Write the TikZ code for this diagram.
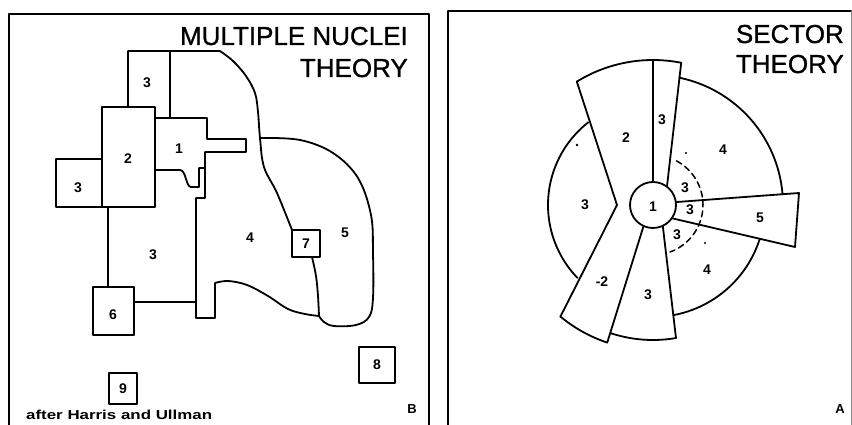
\documentclass[tikz,border=0pt]{standalone}
\usepackage{fontspec}
\setmainfont{Liberation Sans}
\begin{document}
\begin{tikzpicture}[x=1pt,y=1pt,line join=round,line cap=round,
  ln/.style={line width=1.8pt},
  frm/.style={line width=2.2pt},
  lbl/.style={font=\fontsize{14}{14}\selectfont\bfseries,inner sep=0pt},
  ttl/.style={font=\fontsize{26}{26}\selectfont\addfontfeature{FakeBold=1},anchor=base east,inner sep=0pt},
  small/.style={font=\fontsize{13}{13}\selectfont\bfseries,inner sep=0pt},
  dsh/.style={line width=1.5pt,dash pattern=on 6pt off 4pt}]
\useasboundingbox (0,0) rectangle (852,-425);
\fill[white] (0,0) rectangle (852,-425);
% ---------- frames ----------
\draw[frm] (9,-426) -- (9,-14) -- (429,-14) -- (429,-426);
\draw[frm] (448,-426) -- (448,-11) -- (851,-11);
\draw[line width=0.8pt,black!45] (851,-11) -- (851,-426);
% ---------- titles ----------
\node[ttl] (t1) at (408,-45) {MULTIPLE NUCLEI};
\node[ttl] (t2) at (408,-77) {THEORY};
\node[ttl] (t3) at (844,-43) {SECTOR};
\node[ttl] (t4) at (844,-73) {THEORY};
% ---------- multiple nuclei ----------
\draw[ln] (128,-107) -- (128,-51) -- (220,-51)
  plot[smooth,tension=0.6] coordinates {(220,-51) (233,-61) (246,-76) (255,-93) (258,-112) (260,-138) (264,-167) (277,-193) (292,-230)};
\draw[ln] (170,-51) -- (170,-118);
\draw[ln] (102,-107) rectangle (155,-207);
\draw[ln] (102,-159) -- (56,-159) -- (56,-207) -- (102,-207);
\draw[ln] (155,-118) -- (207,-118) -- (207,-139) -- (246,-139) -- (246,-152)
  -- (205,-152) -- (205,-168) -- (199,-168) -- (199,-187) -- (191,-187)
  .. controls (186,-187) and (186,-170) .. (180,-170) -- (155,-170);
\draw[ln] (205,-168) -- (205,-198) -- (196,-198) -- (196,-318) -- (215,-318) -- (215,-283)
  plot[smooth,tension=0.6] coordinates {(215,-283) (228,-281) (247,-285) (268,-296) (288,-309) (305,-314) (319,-316)};
\draw[ln] (108,-207) -- (108,-287);
\draw[ln] (93,-287) rectangle (134,-335);
\draw[ln] (134,-302) -- (196,-302);
\draw[ln] (292,-230) rectangle (320,-257);
\draw[ln] plot[smooth,tension=0.6] coordinates {(312,-257) (316,-276) (318,-296) (319,-316)};
\draw[ln] plot[smooth,tension=0.6] coordinates {(261,-138) (300,-140) (333,-153) (358,-178) (371,-215) (373,-253) (373,-298) (369,-317) (356,-325) (334,-326) (324,-322) (319,-316)};
\draw[ln] (359,-347) rectangle (395,-383);
\draw[ln] (109,-373) rectangle (137,-404);
\node[lbl] (a3a) at (147,-83) {3};
\node[lbl] (a2) at (128,-159) {2};
\node[lbl] (a1) at (179,-149) {1};
\node[lbl] (a3b) at (78,-188) {3};
\node[lbl] (a3c) at (153,-255) {3};
\node[lbl] (a4) at (250,-238) {4};
\node[lbl] (a7) at (306,-244) {7};
\node[lbl] (a5) at (345,-233) {5};
\node[lbl] (a6) at (113,-315) {6};
\node[lbl] (a9) at (123,-389) {9};
\node[lbl] (a8) at (377,-365) {8};
\node[small,anchor=base west] (cr) at (26,-419) {\scalebox{1.3}[1]{after Harris and Ullman}};
\node[small] (lb) at (412,-409) {B};
% ---------- sector theory ----------
\coordinate (C) at (653,-205);
\draw[ln] (C) ++(121.7:145) arc[start angle=121.7,end angle=78.8,radius=145];
\draw[ln] (576.8,-81.6) -- (617,-205) -- (560.4,-316.6);
\draw[ln] (C) ++(230.3:145) arc[start angle=230.3,end angle=251.6,radius=145] -- (647,-215);
\draw[ln] (653,-61) -- (653,-195);
\draw[ln] (681.2,-62.8) -- (666,-195);
\draw[ln] (C) ++(78.3:130) arc[start angle=78.3,end angle=4.8,radius=130];
\draw[ln] (670,-202.5) -- (799,-193) -- (795,-247) -- (670,-217.8);
\draw[ln] (C) ++(-18.1:112) arc[start angle=-18.1,end angle=-79.5,radius=112];
\draw[ln] (661.5,-215) -- (676,-338);
\draw[ln] (C) ++(-80.2:135) arc[start angle=-80.2,end angle=-108.5,radius=135];
\draw[ln] (C) ++(128:105) arc[start angle=128,end angle=224,radius=105];
\draw[dsh] (C) ++(62:50) arc[start angle=62,end angle=-70,radius=50];
\draw[ln,fill=white] (C) circle[radius=23];
\fill (577,-145) circle[radius=1.3];
\fill (686,-153) circle[radius=1.2];
\fill (705,-243) circle[radius=1.2];
\node[lbl] (b1) at (653,-207) {1};
\node[lbl] (b3t) at (662,-120) {3};
\node[lbl] (b2) at (626,-138) {2};
\node[lbl] (b4a) at (723,-150) {4};
\node[lbl] (b3l) at (585,-205) {3};
\node[lbl] (b3i1) at (685,-188) {3};
\node[lbl] (b3i2) at (690,-210) {3};
\node[lbl] (b5) at (760,-218) {5};
\node[lbl] (b3i3) at (677,-235) {3};
\node[lbl] (b4b) at (707,-270) {4};
\node[lbl] (b2b) at (602,-282) {-2};
\node[lbl] (b3b) at (648,-295) {3};
\node[small] (la) at (840,-409) {A};
\end{tikzpicture}
\end{document}
